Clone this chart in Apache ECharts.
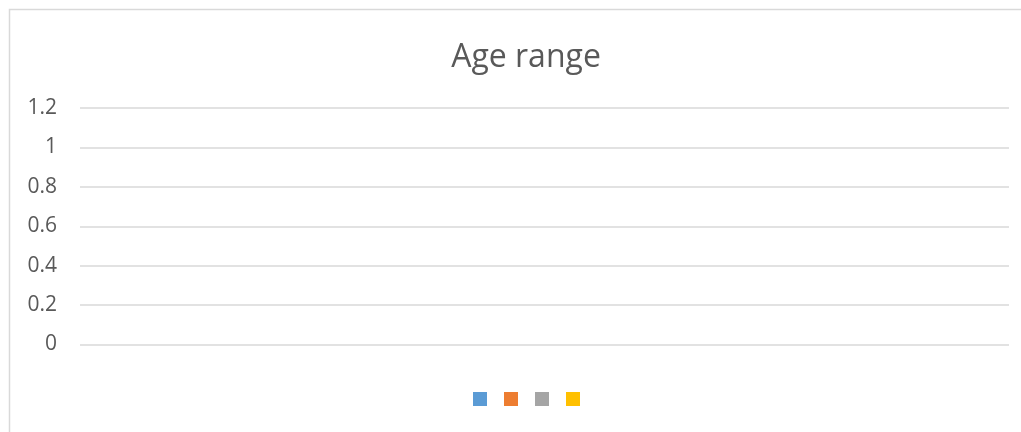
<!DOCTYPE html>
<html>
<head>
<meta charset="utf-8">
<script src="https://cdn.jsdelivr.net/npm/echarts@6/dist/echarts.min.js"></script>
<style>
html,body{margin:0;padding:0;background:#fff;}
#c{width:1021px;height:432px;}
</style>
</head>
<body>
<div id="c"></div>
<script>
const titleText = "Age range";
const categories = [];
const seriesNames = ["Series1", "Series2", "Series3", "Series4"];
const seriesColors = ["#5B9BD5", "#ED7D31", "#A5A5A5", "#FFC000"];
const seriesValues = [[], [], [], []];
const yTicks = { min: 0, max: 1.2, interval: 0.2 };

const chart = echarts.init(document.getElementById('c'), null, { renderer: 'canvas' });
const font = '"Open Sans", "Liberation Sans", sans-serif';
chart.setOption({
  animation: false,
  backgroundColor: '#ffffff',
  graphic: [{
    type: 'rect',
    shape: { x: 9.5, y: 9.5, width: 1100, height: 500 },
    style: { fill: 'none', stroke: '#d9d9d9', lineWidth: 1.5 },
    silent: true, z: -1
  }],
  title: {
    text: titleText,
    left: 521,
    textAlign: 'center',
    top: 37,
    textStyle: { fontFamily: font, fontSize: 32, fontWeight: 'normal', color: '#595959' }
  },
  legend: {
    left: 473,
    top: 392,
    icon: 'rect',
    itemWidth: 14,
    itemHeight: 14,
    itemGap: 17,
    padding: 0,
    formatter: () => '',
    data: seriesNames
  },
  grid: { left: 80, right: 12, top: 108, bottom: 87.5, containLabel: false },
  xAxis: {
    type: 'category',
    data: categories,
    axisLine: { show: false },
    axisTick: { show: false },
    axisLabel: { show: false },
    splitLine: { show: false }
  },
  yAxis: {
    type: 'value',
    min: yTicks.min,
    max: yTicks.max,
    interval: yTicks.interval,
    axisLine: { show: false },
    axisTick: { show: false },
    axisLabel: { margin: 23, fontFamily: font, fontSize: 21, color: '#595959' },
    splitLine: { lineStyle: { color: '#d9d9d9', width: 1.5 } }
  },
  series: seriesNames.map((n, i) => ({
    name: n,
    type: 'bar',
    data: seriesValues[i],
    itemStyle: { color: seriesColors[i] }
  }))
});
</script>
</body>
</html>
